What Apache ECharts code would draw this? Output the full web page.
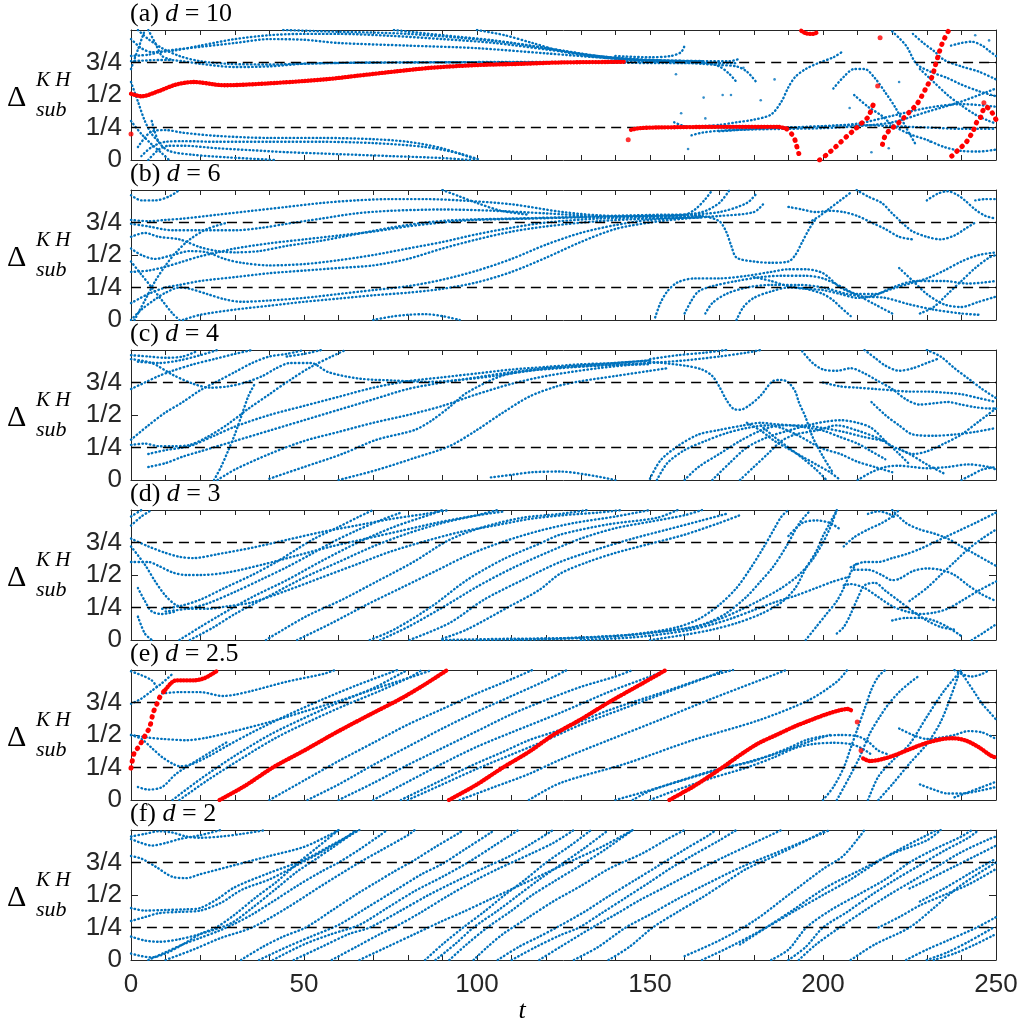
<!DOCTYPE html>
<html><head><meta charset="utf-8">
<script src="https://cdn.jsdelivr.net/npm/echarts@6/dist/echarts.min.js"></script>
<style>html,body{margin:0;padding:0;background:#fff}#c{width:1024px;height:1026px}</style>
</head><body><div id="c"></div><script>
// ---------- data ----------
const panelLetters = ['a','b','c','d','e','f'];
const dValues = ['10','6','4','3','2.5','2'];
const yTickLabels = ['0','1/4','1/2','3/4',''];
const refLevels = [0.25, 0.75];
const tRange = [0, 250];

const blueA = [
 [[0,0.93],[3,0.86],[6,0.83],[12,0.84],[20,0.88],[30,0.93],[40,0.96],[50,0.97],[60,0.97],[75,0.955],[90,0.93],[105,0.9],[120,0.85],[135,0.8],[150,0.77],[165,0.76]],
 [[140,0.8],[150,0.79],[156,0.8],[159,0.83],[160,0.88]],
 [[0,0.8],[5,0.81],[10,0.84],[20,0.87],[30,0.9],[40,0.93],[50,0.925],[60,0.9],[80,0.88],[100,0.86],[120,0.82],[140,0.78],[155,0.765],[173,0.76],[176,0.78]],
 [[0,0.76],[10,0.77],[15,0.76],[20,0.74],[30,0.715],[40,0.72],[50,0.74],[70,0.75],[100,0.752],[130,0.75],[160,0.745],[175,0.745]],
 [[2,1.0],[5,0.93],[9,0.86],[14,0.8],[20,0.76],[28,0.74],[40,0.735],[55,0.745],[80,0.75],[120,0.755],[150,0.755],[165,0.75],[170,0.72],[173,0.66],[175,0.6]],
 [[44,1.0],[55,0.99],[70,0.98],[80,0.97],[95,0.94],[110,0.9],[125,0.84],[140,0.78],[155,0.755],[170,0.75]],
 [[76,1.0],[90,0.96],[105,0.92],[120,0.86],[135,0.8],[150,0.765],[165,0.76]],
 [[100,1.0],[108,0.96],[116,0.9],[124,0.84],[132,0.8],[145,0.77],[160,0.76]],
 [[160,0.75],[165,0.74],[170,0.73],[175,0.72],[178,0.68],[181,0.59]],
 [[165,0.26],[170,0.27],[175,0.29],[180,0.31],[185,0.35],[188,0.45],[190,0.56],[192,0.64],[195,0.7],[199,0.75],[203,0.79],[206,0.84]],
 [[203,0.55],[206,0.64],[209,0.7],[212,0.7],[215,0.63],[218,0.52],[221,0.4],[224,0.25],[227,0.11]],
 [[209,0.5],[213,0.41],[217,0.34],[220,0.27],[225,0.2],[230,0.155],[235,0.1],[240,0.07],[245,0.065],[250,0.08]],
 [[157,0.29],[160,0.26],[165,0.25],[175,0.25],[190,0.25],[200,0.26],[210,0.27],[220,0.26],[230,0.25],[240,0.24],[250,0.24]],
 [[162,0.19],[165,0.21],[170,0.225],[180,0.235],[190,0.24],[200,0.245],[210,0.26],[220,0.29],[230,0.37],[240,0.45],[250,0.55]],
 [[170,0.22],[180,0.24],[190,0.25],[200,0.26],[210,0.28],[220,0.34],[230,0.4],[240,0.43],[250,0.41]],
 [[220,0.99],[224,0.88],[227,0.74],[231,0.68],[236,0.63],[240,0.58],[245,0.53],[250,0.49]],
 [[226,0.97],[229,0.9],[232,0.84],[235,0.77],[240,0.72],[245,0.68],[250,0.62]],
 [[237,0.88],[240,0.9],[243,0.91],[246,0.88],[248,0.84],[250,0.8]],
 [[228,0.7],[232,0.6],[236,0.5],[240,0.42],[244,0.35],[248,0.3],[250,0.28]],
 [[2,0.1],[6,0.22],[10,0.23],[15,0.21],[25,0.185],[40,0.17],[55,0.17],[70,0.16],[80,0.14],[90,0.09],[100,0.0]],
 [[3,0.03],[6,0.1],[10,0.14],[15,0.145],[25,0.14],[40,0.14],[55,0.14],[70,0.13],[85,0.1],[95,0.05],[101,0.0]],
 [[5,0.0],[8,0.08],[11,0.11],[15,0.11],[25,0.09],[35,0.075],[45,0.06],[60,0.045],[75,0.03],[90,0.015],[98,0.0]],
 [[6,0.3],[8,0.14],[11,0.07],[18,0.04],[28,0.02],[42,0.0]],
 [[0,0.6],[2,0.45],[4,0.3],[6,0.2],[8,0.14]],
 [[0,0.3],[3,0.2],[6,0.12],[9,0.05],[11,0.0]],
 [[0,0.7],[2,0.85],[4,1.0]],
 [[5,1.0],[7,0.9],[9,0.8],[12,0.77]]
];
const bluePointsA = [[165.5,0.48],[171,0.5],[173.4,0.5],[182,0.46],[159,0.36],[166,0.32],[161,0.085],[157.5,0.66],[207.7,0.4],[219,0.09],[186,0.62],[177,0.71],[214,0.06],[231,0.14],[222,0.6],[244,0.96],[248,0.92]];
const redA_dense = [
 [[0,0.51],[3,0.49],[8,0.53],[13,0.58],[18,0.6],[27,0.575],[40,0.59],[56,0.62],[66,0.65],[76,0.68],[87,0.71],[100,0.73],[113,0.74],[124,0.75],[143,0.755]],
 [[144.5,0.232],[147,0.245],[152,0.25],[172,0.255],[187,0.255],[189.5,0.24]],
 [[193.7,0.995],[195,0.975],[197,0.97],[198.6,0.985]]
];
const redA_sparse = [
 [[189.5,0.24],[191.5,0.18],[192.3,0.115],[193,0.05]],
 [[199,0.0],[201,0.04],[203,0.085],[205,0.135],[207,0.185],[209,0.23],[211,0.28],[213,0.33],[214.5,0.425]],
 [[217.2,0.12],[218,0.19],[219.3,0.23],[221.2,0.27],[223.2,0.32],[225,0.37],[227,0.425],[228.5,0.49],[230,0.565],[231.5,0.64],[232.5,0.73],[233.5,0.82],[234.5,0.9],[236.2,0.99]],
 [[237.2,0.03],[238.6,0.065],[240,0.1],[241.5,0.14],[243.5,0.23],[244.4,0.29],[245.4,0.32],[246.3,0.385],[247.1,0.41],[248.3,0.385],[249.2,0.35],[250,0.31]]
];
const redA_points = [[0,0.2],[143.7,0.155],[215.8,0.57],[216.5,0.94],[246.5,0.44]];

const blueB = [
 [[0,0.96],[3,0.92],[7,0.92],[11,0.95],[14,1.0]],
 [[0,0.77],[5,0.76],[10,0.77],[15,0.78],[25,0.81],[35,0.84],[45,0.87],[55,0.9],[65,0.92],[75,0.93],[85,0.93],[95,0.92],[110,0.89],[125,0.83],[140,0.8],[155,0.8],[165,0.83],[170,0.9],[173,1.0]],
 [[0,0.74],[5,0.72],[12,0.69],[20,0.69],[30,0.69],[38,0.71],[45,0.74],[55,0.78],[65,0.82],[75,0.84],[90,0.85],[105,0.84],[120,0.82],[135,0.8],[150,0.8],[160,0.81],[170,0.83],[178,0.9],[181,0.98]],
 [[0,0.64],[4,0.67],[8,0.64],[14,0.62],[20,0.56],[25,0.53],[30,0.52],[37,0.53],[45,0.57],[55,0.61],[65,0.66],[75,0.71],[85,0.75],[95,0.77],[110,0.78],[125,0.79],[140,0.8],[155,0.81],[165,0.8],[170,0.76],[172,0.68],[173.5,0.57],[175,0.48],[180,0.45],[185,0.44],[190,0.45],[192,0.5],[194,0.6],[196,0.7],[198,0.78]],
 [[0,0.37],[5,0.38],[10,0.41],[15,0.45],[20,0.49],[25,0.52],[30,0.55],[40,0.59],[50,0.62],[60,0.65],[70,0.68],[80,0.72],[90,0.75],[100,0.77],[115,0.78],[130,0.79],[150,0.8],[160,0.81],[163,0.85],[166,0.93],[168,1.0]],
 [[0,0.55],[3,0.5],[7,0.47],[12,0.5],[17,0.53],[22,0.52],[27,0.47],[32,0.44],[40,0.42],[50,0.43],[60,0.46],[70,0.5],[80,0.55],[90,0.6],[100,0.66],[110,0.71],[120,0.75],[135,0.78],[150,0.79],[165,0.8]],
 [[0,0.13],[5,0.2],[10,0.25],[14,0.27],[20,0.3],[30,0.33],[40,0.36],[50,0.38],[60,0.4],[70,0.42],[80,0.47],[90,0.55],[100,0.62],[110,0.68],[120,0.72],[135,0.76],[150,0.78],[165,0.79]],
 [[0,0.0],[3,0.08],[7,0.16],[10,0.21],[14,0.25],[17,0.24],[22,0.2],[27,0.16],[32,0.14],[40,0.15],[50,0.17],[60,0.2],[70,0.23],[80,0.26],[90,0.31],[100,0.38],[110,0.47],[120,0.58],[130,0.67],[140,0.73],[150,0.77],[165,0.79]],
 [[15,0.0],[20,0.04],[30,0.08],[40,0.11],[50,0.14],[60,0.165],[70,0.19],[80,0.21],[90,0.24],[100,0.29],[110,0.37],[120,0.48],[130,0.6],[140,0.7],[150,0.75],[160,0.78],[170,0.8],[180,0.83],[183,0.9]],
 [[70,0.0],[75,0.025],[80,0.04],[85,0.045],[90,0.03],[95,0.0]],
 [[1,0.0],[4,0.15],[7,0.3],[10,0.42],[13,0.52],[17,0.62],[22,0.7],[28,0.75]],
 [[90,1.0],[95,0.95],[100,0.9],[107,0.84],[115,0.81]],
 [[0,0.45],[3,0.35],[6,0.25],[9,0.15],[12,0.05],[14,0.0]],
 [[151.5,0.02],[153,0.13],[155,0.22],[158,0.29],[163,0.32],[170,0.32],[178,0.34],[185,0.37],[190,0.39],[195,0.39],[200,0.36],[205,0.25],[210,0.19],[215,0.12],[220,0.05]],
 [[160,0.05],[162,0.15],[164,0.22],[168,0.26],[175,0.3],[182,0.33],[188,0.34],[195,0.34],[200,0.32],[205,0.26],[210,0.2],[215,0.2],[220,0.24],[225,0.28],[230,0.32],[235,0.38],[240,0.45],[245,0.5],[250,0.52]],
 [[166,0.05],[168,0.13],[172,0.2],[178,0.25],[185,0.27],[193,0.27],[200,0.25],[207,0.2],[212,0.18],[218,0.17],[225,0.12],[232,0.08],[240,0.05],[245,0.04]],
 [[175,0.0],[177,0.1],[180,0.17],[185,0.22],[190,0.25],[195,0.24],[200,0.23],[205,0.2],[210,0.17],[215,0.19],[220,0.25],[227,0.3],[235,0.3],[242,0.28],[250,0.3]],
 [[180,0.33],[185,0.3],[190,0.26],[195,0.24],[200,0.2],[203,0.15],[205,0.1],[208,0.03]],
 [[190,0.87],[194,0.85],[198,0.83],[202,0.84],[206,0.83],[210,0.8],[214,0.75],[218,0.7],[222,0.64],[226,0.62]],
 [[209.7,1.0],[213,0.95],[217,0.9],[220,0.82],[222,0.77],[224,0.72],[226,0.68],[230,0.64],[234,0.62],[238,0.65],[241,0.7],[244,0.75]],
 [[230,0.92],[233,0.97],[236,0.99],[239,0.96],[241,0.92],[244,0.85],[247,0.8],[250,0.78]],
 [[196,0.75],[199,0.8],[202,0.86],[205,0.92],[208,0.98]],
 [[228,0.05],[232,0.1],[236,0.2],[240,0.3],[244,0.4],[248,0.48],[250,0.5]],
 [[222,0.4],[226,0.3],[230,0.2],[235,0.12],[240,0.1],[245,0.14],[250,0.18]],
 [[244,0.92],[247,0.93],[250,0.93]]
];

const blueC = [
 [[0,0.96],[5,0.95],[10,0.94],[15,0.95],[19,0.99]],
 [[0,0.93],[6,0.9],[12,0.81],[18,0.74],[23,0.71],[28,0.72],[33,0.75],[38,0.8],[42,0.86],[46,0.9],[52,0.9],[57,0.83],[66,0.78],[76,0.765],[86,0.755],[95,0.77],[105,0.8],[115,0.84],[125,0.87],[140,0.9],[150,0.92]],
 [[2,0.91],[8,0.9],[14,0.92],[20,0.96],[25,1.0]],
 [[0,0.7],[4,0.75],[8,0.8],[12,0.84],[18,0.89],[24,0.93],[30,0.97],[35,1.0]],
 [[0,0.31],[5,0.42],[10,0.52],[15,0.6],[20,0.69],[25,0.76],[30,0.83],[35,0.9],[40,0.95],[45,0.97],[50,1.0]],
 [[5,0.2],[10,0.23],[15,0.25],[18,0.27],[24,0.34],[30,0.41],[40,0.5],[50,0.57],[60,0.64],[70,0.71],[80,0.76],[90,0.79],[100,0.82],[110,0.85],[120,0.87],[130,0.89],[140,0.9],[150,0.92]],
 [[5,0.1],[10,0.13],[15,0.18],[20,0.22],[30,0.3],[40,0.38],[50,0.46],[60,0.54],[70,0.62],[80,0.7],[90,0.75],[100,0.79],[110,0.83],[120,0.86],[135,0.88],[150,0.9]],
 [[0,0.27],[4,0.28],[8,0.26],[12,0.26],[17,0.27],[22,0.33],[28,0.43],[34,0.55],[40,0.66],[46,0.77],[52,0.87],[58,0.95],[62,1.0]],
 [[40,0.01],[50,0.1],[61,0.2],[71,0.31],[82,0.385],[87,0.46],[92,0.56],[97,0.67],[107,0.8],[115,0.84],[124,0.86],[135,0.88],[150,0.89]],
 [[60,0.0],[71,0.077],[82,0.17],[92,0.26],[100,0.385],[107,0.51],[115,0.64],[123,0.72],[130,0.76],[140,0.8],[150,0.84],[155,0.86]],
 [[104,0.02],[110,0.04],[116,0.06],[124,0.065],[132,0.04],[140,0.0]],
 [[25,0.0],[30,0.08],[40,0.2],[50,0.3],[60,0.37],[70,0.44],[80,0.5],[90,0.57],[100,0.66],[110,0.74],[120,0.8],[135,0.86],[150,0.9]],
 [[24,0.0],[26,0.1],[28,0.22],[30,0.35],[32,0.5],[34,0.65],[36,0.75]],
 [[45,0.95],[50,0.97],[55,1.0]],
 [[150,0.93],[158,0.96],[166,0.98],[172,1.0]],
 [[150,0.9],[160,0.92],[170,0.95],[178,0.98],[182,1.0]],
 [[150,0.91],[160,0.88],[165,0.85],[168,0.8],[170,0.72],[172,0.62],[174,0.55],[176,0.54],[179,0.58],[182,0.65],[185.5,0.76],[188,0.77],[190,0.75],[192,0.68],[193,0.6],[195,0.48],[197,0.33],[200,0.18],[203,0.05]],
 [[150,0.01],[153,0.15],[158,0.26],[164,0.35],[170,0.385],[177,0.42],[182,0.44],[186,0.43],[191,0.42],[196,0.4],[200,0.38],[205,0.33],[210,0.28],[214,0.22],[218,0.16]],
 [[152,0.0],[155,0.13],[160,0.23],[166,0.3],[172,0.36],[178,0.4],[184,0.42],[188,0.4],[193,0.34],[197,0.28],[200,0.24],[205,0.2],[210,0.14],[215,0.1],[220,0.06]],
 [[160,0.0],[164,0.1],[170,0.2],[176,0.3],[182,0.38],[188,0.42],[194,0.42],[200,0.4],[206,0.37],[212,0.33],[218,0.3]],
 [[168,0.0],[173,0.13],[178,0.25],[184,0.33],[190,0.38],[197,0.43],[201,0.45],[205,0.46],[210,0.44],[214,0.4],[218,0.3],[222,0.2],[225,0.12]],
 [[176,0.0],[180,0.1],[184,0.2],[188,0.3],[192,0.35],[198,0.38],[204,0.42],[210,0.38],[216,0.32],[220,0.26],[225,0.2],[230,0.12],[235,0.05]],
 [[178,0.44],[182,0.38],[186,0.3],[190,0.24],[194,0.18],[198,0.12],[202,0.06],[205,0.0]],
 [[182,0.42],[186,0.33],[190,0.25],[194,0.17],[198,0.08],[201,0.0]],
 [[194,0.99],[197,0.9],[200,0.85],[204,0.84],[208,0.86],[212,0.82],[216,0.76],[220,0.7],[224,0.62],[228,0.58],[232,0.59],[236,0.6],[240,0.58],[244,0.56],[248,0.55],[250,0.55]],
 [[200,0.75],[205,0.72],[210,0.71],[215,0.7],[220,0.69],[225,0.68],[230,0.68],[236,0.67],[240,0.66],[245,0.63],[250,0.6]],
 [[212,1.0],[215,0.94],[218,0.88],[222,0.84],[226,0.86],[230,0.9],[233,0.93]],
 [[214,0.6],[218,0.5],[222,0.42],[226,0.35],[232,0.34],[238,0.35],[244,0.37],[250,0.4]],
 [[222,0.24],[226,0.2],[230,0.22],[235,0.28],[240,0.35],[245,0.45],[250,0.55]],
 [[210,0.0],[214,0.06],[218,0.1],[222,0.11],[226,0.1],[230,0.09],[236,0.1],[242,0.12],[248,0.1],[250,0.08]],
 [[230,1.0],[234,0.95],[238,0.86],[242,0.78],[246,0.7],[250,0.63]],
 [[240,0.0],[243,0.04],[246,0.08],[250,0.1]]
];

const blueD = [
 [[0,0.95],[3,1.0]],
 [[0,0.88],[3,0.95],[6,1.0]],
 [[0,0.78],[5,0.72],[10,0.67],[14,0.64],[18,0.63],[25,0.66],[35,0.71],[45,0.77],[55,0.83],[65,0.88],[75,0.93],[85,0.97],[92,1.0]],
 [[0,0.6],[5,0.6],[8,0.57],[12,0.52],[16,0.5],[20,0.5],[28,0.52],[38,0.58],[48,0.65],[58,0.72],[68,0.78],[78,0.84],[88,0.9],[98,0.95],[108,0.99]],
 [[0,0.72],[4,0.58],[7,0.45],[10,0.34],[13,0.27],[17,0.24],[22,0.24],[28,0.26],[35,0.29],[45,0.38],[55,0.48],[65,0.58],[75,0.68],[85,0.76],[95,0.83],[105,0.88],[115,0.93],[125,0.96],[135,0.98],[142,1.0]],
 [[9,0.24],[14,0.26],[20,0.31],[27,0.4],[35,0.5],[42,0.6],[48,0.7],[53,0.78],[60,0.87],[66,0.95],[70,1.0]],
 [[10,0.22],[16,0.24],[22,0.28],[30,0.37],[38,0.47],[45,0.56],[52,0.66],[58,0.75],[65,0.84],[72,0.92],[78,0.98]],
 [[14,0.0],[20,0.1],[25,0.18],[35,0.33],[45,0.46],[55.6,0.615],[66,0.755],[76,0.87],[87,0.97],[90,1.0]],
 [[17,0.0],[24,0.1],[30,0.2],[40,0.34],[50,0.48],[60,0.6],[70,0.72],[80,0.82],[90,0.9],[100,0.96],[106,1.0]],
 [[39,0.0],[50.5,0.18],[61,0.31],[71,0.45],[81.6,0.6],[92,0.77],[102,0.87],[113,0.94],[124,0.97],[132,1.0]],
 [[48,0.0],[58,0.13],[68,0.27],[78,0.4],[88,0.53],[98,0.66],[108,0.76],[118,0.84],[128,0.9],[140,0.95],[150,1.0]],
 [[69,0.0],[76,0.08],[87,0.26],[97,0.46],[107.5,0.62],[118,0.74],[124,0.81],[138,0.89],[152,0.94],[158,1.0]],
 [[72,0.0],[80,0.1],[90,0.25],[100,0.41],[110,0.55],[120,0.67],[130,0.78],[140,0.86],[150,0.91],[160,0.96],[165,1.0]],
 [[80.5,0.0],[92,0.13],[102,0.31],[113,0.46],[124,0.6],[135,0.7],[145,0.78],[155,0.85],[165,0.92],[172,0.97]],
 [[90,0.01],[97,0.08],[109.5,0.26],[118,0.385],[124,0.51],[132,0.6],[140,0.67],[150,0.74],[160,0.81],[170,0.9],[176,0.96]],
 [[2,0.18],[4,0.05],[6,0.0]],
 [[2,0.4],[4,0.3],[6,0.22],[9,0.2],[13,0.22]],
 [[90,0.0],[110,0.01],[124,0.013],[143,0.038],[152.7,0.064],[160.4,0.09],[166.2,0.128],[172,0.205],[177.8,0.33],[181.6,0.44],[185.5,0.56],[189.4,0.72],[193.2,0.9],[196.1,0.99]],
 [[100,0.0],[120,0.01],[140,0.03],[150,0.06],[158,0.1],[164,0.16],[170,0.27],[175,0.4],[179,0.55],[183,0.72],[186,0.86],[188,0.95],[190,1.0]],
 [[110,0.0],[130,0.015],[145,0.04],[155,0.07],[163,0.1],[170,0.16],[176,0.23],[182,0.31],[188,0.4],[193,0.5],[197,0.62],[200,0.75],[202,0.86],[204,1.0]],
 [[130,0.0],[145,0.02],[155,0.05],[162,0.08],[168,0.12],[174,0.17],[180,0.23],[186,0.29],[192,0.34],[198,0.4],[203,0.45],[208,0.49]],
 [[150,0.0],[160,0.04],[168,0.08],[175,0.13],[182,0.2],[188,0.29],[192,0.4],[195,0.55],[198,0.68],[200,0.8],[202,0.9],[204,1.0]],
 [[190,0.8],[194,0.9],[198,0.92],[202,0.9],[205,0.85]],
 [[206,0.72],[209,0.79],[213,0.85],[217,0.9],[220,0.95],[222,1.0]],
 [[213,0.97],[216,0.99],[219,0.97],[221,0.94]],
 [[208,0.56],[212,0.6],[216,0.6],[220,0.63],[224,0.66],[228,0.7],[232,0.75],[236,0.8],[240,0.85],[244,0.9],[250,0.98]],
 [[209,0.54],[213,0.54],[217,0.5],[220,0.46],[222,0.47],[226,0.53],[230,0.55],[234,0.54],[238,0.5],[242,0.42],[246,0.35],[250,0.3]],
 [[206,0.42],[208,0.43],[212,0.4],[216,0.33],[220,0.26],[224,0.22],[228,0.2],[232,0.21],[236,0.24],[240,0.3],[245,0.38],[250,0.45]],
 [[204,0.05],[206,0.1],[208,0.2],[210,0.32],[212,0.42],[215,0.44],[218,0.38],[222,0.3],[226,0.22],[230,0.15],[234,0.1],[238,0.08]],
 [[220,0.15],[224,0.17],[228,0.17],[232,0.15],[236,0.1],[240,0.03]],
 [[225,0.3],[230,0.4],[234,0.5],[238,0.6],[242,0.7],[246,0.78],[250,0.85]],
 [[220,1.0],[224,0.9],[228,0.85],[232,0.82],[236,0.78],[240,0.72],[244,0.66],[248,0.6],[250,0.57]],
 [[195,0.0],[198,0.1],[201,0.2],[204,0.3],[206,0.4],[208,0.52],[210,0.6]],
 [[243,0.0],[246,0.05],[250,0.12]]
];

const blueE = [
 [[9,0.82],[14,0.83],[20,0.83],[26.6,0.8],[30,0.81],[35,0.84],[45,0.91],[55.6,0.97],[59,1.0]],
 [[0,0.5],[3,0.47],[6,0.4],[9,0.33],[12,0.28],[14,0.26],[17,0.27],[22,0.33],[28,0.42],[35,0.52],[45,0.65],[55,0.77],[65,0.88],[75,0.98],[77,1.0]],
 [[0,0.5],[5,0.48],[9,0.47],[16,0.46],[22,0.48],[30,0.53],[40,0.6],[50,0.68],[61,0.77],[71,0.86],[81.5,0.95],[87,1.0]],
 [[12,0.0],[20,0.16],[30,0.34],[40,0.5],[50,0.63],[60,0.75],[70,0.86],[78.5,0.98],[80,1.0]],
 [[14,0.0],[22,0.15],[32,0.32],[42,0.48],[52,0.61],[62,0.73],[72,0.84],[81,0.95],[84,1.0]],
 [[40,0.0],[50,0.15],[60,0.3],[70,0.44],[80,0.58],[90,0.7],[100,0.82],[110,0.93],[116,1.0]],
 [[51,0.0],[60,0.12],[70,0.27],[80,0.41],[90,0.55],[100,0.68],[110,0.8],[120,0.92],[126,1.0]],
 [[60,0.0],[70,0.13],[80,0.27],[90,0.4],[100,0.53],[110,0.66],[120,0.77],[130,0.87],[140,0.95],[145,1.0]],
 [[70,0.0],[80,0.14],[90,0.28],[100,0.41],[110,0.52],[124,0.67],[138,0.83],[150,0.95],[155,1.0]],
 [[78,0.0],[88,0.13],[98,0.26],[107.5,0.37],[115,0.46],[124,0.54],[138,0.69],[152.7,0.82],[167,0.95],[174,1.0]],
 [[80,0.0],[90,0.12],[100,0.24],[110,0.35],[120,0.46],[130,0.58],[142,0.7],[155,0.83],[168,0.96],[171,1.0]],
 [[95,0.0],[105,0.1],[115,0.2],[124,0.31],[138,0.46],[152.7,0.615],[167,0.77],[181.6,0.92],[189.4,1.0]],
 [[115,0.0],[124,0.13],[143,0.28],[162.3,0.46],[181.6,0.615],[196,0.77],[204,0.91],[207,1.0]],
 [[145,0.0],[150,0.07],[160,0.16],[170,0.24],[180,0.3],[190,0.4],[195,0.46],[200,0.49],[205,0.5],[210,0.49],[213,0.45],[216,0.38],[219,0.35]],
 [[150,0.0],[158,0.08],[168,0.17],[178,0.25],[186,0.33],[192,0.4],[197,0.43],[203,0.44],[208,0.43],[211,0.4],[214,0.35]],
 [[140,0.0],[148,0.06],[158,0.14],[168,0.22],[178,0.29],[188,0.37],[196,0.45],[202,0.5]],
 [[204,0.0],[207.7,0.18],[210.6,0.33],[213.5,0.51],[216.4,0.64],[219,0.74],[222,0.83],[225,0.9],[228,0.96]],
 [[213,0.0],[216,0.18],[220,0.3],[225,0.43],[230,0.64],[235,0.84],[240,1.0]],
 [[216,0.0],[220,0.12],[225,0.28],[230,0.43],[234,0.6],[237,0.8],[239,0.95]],
 [[200,0.0],[203,0.1],[206,0.25],[208,0.4],[210,0.55],[212,0.7],[214,0.85],[216,0.95],[218,1.0]],
 [[222,0.55],[226,0.5],[230,0.47],[234,0.48],[238,0.5],[242,0.53],[246,0.52],[250,0.47]],
 [[228,0.12],[232,0.08],[236,0.05],[240,0.05],[245,0.07],[250,0.1]],
 [[238,0.02],[242,0.06],[246,0.1],[250,0.14]],
 [[238,1.0],[240,0.97],[243,0.95],[246,0.97],[248,1.0]],
 [[240,0.98],[242,0.9],[244,0.82],[246,0.74],[248,0.68],[250,0.62]],
 [[0,0.99],[3,0.96],[6,0.92],[8,0.85]],
 [[0,0.74],[3,0.78],[6,0.84],[9,0.9],[12,0.97]],
 [[2,0.1],[5,0.08],[9,0.1],[13,0.2],[20,0.32],[28,0.45]]
];
const redE_dense = [
 [[10,0.85],[11.6,0.9],[13,0.92],[15,0.92],[18,0.92],[21,0.935],[23.5,0.97],[25,0.995]],
 [[25.6,0.0],[33,0.11],[41,0.25],[50,0.38],[60,0.53],[70,0.67],[78,0.78],[85,0.89],[91.4,1.0]],
 [[91.9,0.0],[100,0.12],[107.5,0.25],[115,0.37],[122,0.5],[130,0.62],[138,0.75],[146,0.87],[154.6,1.0]],
 [[155.6,0.0],[162.3,0.1],[167,0.18],[172,0.27],[176.8,0.36],[181.6,0.44],[186.5,0.5],[191.3,0.56],[196,0.61],[201,0.66],[204.8,0.69],[207.2,0.7],[208.7,0.68]],
 [[211.6,0.32],[213.5,0.3],[216.4,0.31],[220.3,0.34],[225,0.39],[230,0.44],[234.8,0.47],[237.7,0.475],[241.5,0.455],[245.4,0.4],[248.3,0.345],[250,0.325]]
];
const redE_sparse = [
 [[0,0.245],[1,0.37],[2.3,0.41],[3.3,0.46],[4.4,0.51],[5.4,0.56],[6.4,0.67],[7.5,0.74],[8.5,0.8],[10,0.85]]
];
const redE_points = [[209.9,0.6],[211,0.38]];

const blueF = [
 [[0,0.8],[3,0.78],[7,0.72],[12,0.64],[16,0.63],[20,0.66],[30,0.73],[40,0.8],[50,0.87],[58,0.97],[60,1.0]],
 [[0,0.95],[4,0.97],[8,0.99],[12,0.98],[16,0.95],[20,0.94],[26,0.95],[32,0.97],[39,1.0]],
 [[0,0.93],[3,0.9],[6,0.88],[10,0.9],[14,0.93],[20,0.96],[26,1.0]],
 [[0,0.4],[4,0.38],[10,0.385],[16,0.39],[20,0.4],[25,0.47],[30,0.56],[40,0.67],[50,0.77],[57,0.87],[66,1.0]],
 [[0,0.3],[4,0.33],[8,0.36],[14,0.37],[20,0.38],[26,0.44],[32,0.54],[40,0.62],[48,0.73],[55,0.83],[62,0.94],[65,1.0]],
 [[0,0.05],[3,0.03],[6,0.02],[10,0.05],[15,0.12],[20,0.2],[24.6,0.25],[30,0.35],[36,0.48],[42,0.6],[48.4,0.75],[54,0.87],[60,1.0]],
 [[0,0.18],[4,0.15],[8,0.14],[14,0.16],[20,0.2],[28.7,0.28],[35,0.4],[42,0.55],[48,0.68],[53.6,0.78],[58,0.86],[64,0.97],[66,1.0]],
 [[5,0.0],[10,0.06],[15,0.12],[20,0.17],[25,0.22],[30,0.28],[35,0.35],[41,0.45],[48,0.57],[55,0.68],[60,0.75],[66,0.85],[72,0.96],[74,1.0]],
 [[10,0.0],[18,0.08],[26,0.17],[35,0.25],[45,0.4],[55,0.57],[66,0.75],[72,0.84],[80,0.96],[82,1.0]],
 [[31.8,0.0],[38,0.1],[44,0.18],[50.5,0.25],[58,0.38],[66,0.52],[71,0.6],[76,0.68],[82,0.77],[88,0.87],[95,0.98],[96,1.0]],
 [[37,0.0],[45,0.1],[52,0.18],[60,0.27],[68,0.4],[76,0.53],[84,0.66],[90,0.74],[97,0.86],[104,0.98],[105,1.0]],
 [[41,0.0],[50,0.12],[58,0.2],[66,0.27],[74,0.4],[82,0.53],[90,0.64],[98,0.76],[105,0.88],[112,1.0]],
 [[47,0.0],[55,0.1],[63,0.2],[69,0.25],[78,0.38],[86,0.5],[95,0.62],[103,0.72],[109.5,0.8],[116,0.9],[122,1.0]],
 [[58,0.0],[65,0.1],[72,0.2],[76,0.25],[84,0.37],[92,0.5],[100,0.62],[106,0.7],[115.8,0.82],[122,0.9],[128,1.0]],
 [[66,0.0],[74,0.1],[82,0.2],[90,0.3],[96,0.37],[104,0.47],[112,0.57],[120,0.67],[128,0.77],[136,0.87],[143,0.97],[145,1.0]],
 [[85,0.0],[90,0.12],[96,0.25],[102,0.37],[108,0.5],[114,0.62],[120,0.75],[127,0.88],[133,1.0]],
 [[88,0.0],[94,0.13],[99,0.25],[106,0.38],[112,0.5],[118,0.62],[124,0.73],[131,0.86],[138,1.0]],
 [[92,0.0],[97,0.12],[103,0.25],[110,0.38],[116,0.5],[122,0.6],[130,0.73],[137,0.85],[145,1.0]],
 [[99,0.0],[103,0.1],[107.5,0.2],[115,0.33],[122,0.45],[130,0.57],[138,0.7],[147.8,0.82],[155,0.93],[160,1.0]],
 [[106,0.0],[112,0.1],[118,0.18],[123,0.25],[131,0.37],[138,0.49],[146,0.62],[152.7,0.73],[160,0.85],[167,0.96],[169,1.0]],
 [[110,0.0],[117,0.1],[124,0.19],[129.5,0.25],[136,0.36],[143,0.48],[150,0.6],[155.6,0.7],[162,0.8],[170,0.92],[175,1.0]],
 [[118,0.0],[124,0.1],[133.3,0.25],[140,0.35],[147,0.46],[155,0.57],[164.3,0.7],[172,0.8],[180,0.9],[188,1.0]],
 [[128,0.0],[135,0.1],[143,0.25],[150,0.35],[158,0.47],[166,0.58],[176.8,0.72],[186,0.82],[195,0.92],[202,1.0]],
 [[138,0.0],[144,0.1],[150.8,0.25],[158,0.37],[165,0.48],[172,0.6],[177.8,0.7],[186,0.8],[196,0.93],[201,1.0]],
 [[160,0.03],[170,0.15],[180,0.3],[190,0.5],[200,0.7],[205.8,0.8],[210.6,0.95],[212,1.0]],
 [[165,0.0],[173,0.1],[183.6,0.25],[192,0.38],[200,0.5],[208,0.62],[215.5,0.75],[222,0.85],[230,0.96],[233,1.0]],
 [[176,0.12],[183.6,0.25],[191.3,0.385],[201,0.56],[210.6,0.69],[220.3,0.82],[230,0.92],[234,1.0]],
 [[185,0.0],[190,0.08],[195.2,0.25],[202,0.38],[210,0.5],[218,0.62],[225,0.75],[232,0.85],[240,0.95],[243,1.0]],
 [[190,0.0],[195,0.1],[200,0.25],[207,0.37],[214,0.5],[221,0.62],[228,0.73],[235,0.84],[242,0.94],[245,1.0]],
 [[193,0.0],[198,0.12],[204.8,0.25],[212,0.38],[219,0.5],[226,0.61],[233,0.72],[240,0.83],[248,0.93],[250,0.95]],
 [[208,0.0],[215,0.12],[225,0.25],[232,0.4],[238.6,0.55],[244,0.65],[250,0.75]],
 [[224,0.0],[230,0.08],[236,0.15],[244.4,0.25],[250,0.33]],
 [[230,0.0],[236,0.06],[242,0.14],[249.3,0.25]],
 [[232,0.0],[238,0.05],[244,0.12],[250,0.2]],
 [[225,0.55],[232,0.64],[238,0.72],[244,0.8],[250,0.88]],
 [[228,0.45],[235,0.55],[242,0.66],[250,0.78]],
 [[216,0.25],[222,0.33],[228,0.42],[235,0.5],[242,0.58],[250,0.7]]
];

const bluePanels = [blueA, blueB, blueC, blueD, blueE, blueF];
const bluePointPanels = {0: bluePointsA};
const redDensePanels = {0: redA_dense, 4: redE_dense};
const redSparsePanels = {0: redA_sparse, 4: redE_sparse};
const redPointPanels = {0: redA_points, 4: redE_points};

// ---------- layout / style ----------
const PLOT_LEFT = 131, PLOT_RIGHT = 28, PANEL_H = 130;
const PANEL_TOPS = [30, 190, 350, 510, 670, 830];
const AX = '#262626';
const SANS = '"Liberation Sans", Arial, sans-serif';
const SERIF = '"Liberation Serif", "Times New Roman", serif';
const blueStyle = {color:'#0072BD', width:2.4, type:[0.5,3.3], cap:'round'};
const redDenseStyle = {color:'#FF0000', width:4.3, type:[0.5,2.6], cap:'round'};
const redSparseStyle = {color:'#FF0000', width:5, type:[0.5,6.5], cap:'round'};

const grids = [], xAxes = [], yAxes = [], series = [], titles = [], graphics = [];
PANEL_TOPS.forEach((top, i) => {
  const last = i === PANEL_TOPS.length - 1;
  grids.push({left: PLOT_LEFT, right: PLOT_RIGHT, top: top, height: PANEL_H});
  const xBase = {type:'value', gridIndex:i, min:tRange[0], max:tRange[1], interval:10,
    axisLine:{show:true, onZero:false, lineStyle:{color:AX, width:1}},
    axisTick:{show:true, inside:true, length:5, lineStyle:{color:AX}},
    splitLine:{show:false}};
  xAxes.push(Object.assign({}, xBase, {position:'bottom',
    axisLabel:{show:last, margin:12, color:AX, fontSize:26, fontFamily:SANS,
      formatter: v => (v % 50 === 0 ? String(v) : '')}}));
  xAxes.push(Object.assign({}, xBase, {position:'top', axisLabel:{show:false}}));
  const yBase = {type:'value', gridIndex:i, min:0, max:1, interval:0.25,
    axisLine:{show:true, onZero:false, lineStyle:{color:AX, width:1}},
    axisTick:{show:true, inside:true, length:7, lineStyle:{color:AX}},
    splitLine:{show:false}};
  yAxes.push(Object.assign({}, yBase, {position:'left',
    axisLabel:{show:true, margin:9, color:AX, fontSize:26, fontFamily:SANS,
      formatter: v => yTickLabels[Math.round(v*4)]}}));
  yAxes.push(Object.assign({}, yBase, {position:'right', axisLabel:{show:false}}));

  const mk = (data, style, z) => ({type:'line', xAxisIndex:2*i, yAxisIndex:2*i, data:data,
    smooth:0.3, symbol:'none', lineStyle:style, silent:true, z:z, clip:true});
  bluePanels[i].forEach(c => series.push(mk(c, blueStyle, 2)));
  if (bluePointPanels[i]) series.push({type:'scatter', xAxisIndex:2*i, yAxisIndex:2*i,
    data:bluePointPanels[i], symbolSize:2.6, itemStyle:{color:'#0072BD'}, silent:true, z:2});
  refLevels.forEach(lv => series.push(mk([[tRange[0],lv],[tRange[1],lv]],
    {color:'#000', width:1.3, type:[10,6]}, 3)));
  (redDensePanels[i] || []).forEach(c => series.push(mk(c, redDenseStyle, 5)));
  (redSparsePanels[i] || []).forEach(c => series.push(mk(c, redSparseStyle, 5)));
  if (redPointPanels[i]) series.push({type:'scatter', xAxisIndex:2*i, yAxisIndex:2*i,
    data:redPointPanels[i], symbolSize:5, itemStyle:{color:'#FF0000'}, silent:true, z:6});

  titles.push({text:'{n|(' + panelLetters[i] + ') }{i|d}{n| = ' + dValues[i] + '}',
    left: PLOT_LEFT - 1, top: top - 29, padding:0,
    textStyle:{fontWeight:'normal', rich:{
      n:{fontFamily:SERIF, fontSize:26, fontWeight:'normal', color:'#000'},
      i:{fontFamily:SERIF, fontStyle:'italic', fontWeight:'normal', fontSize:26, color:'#000'}}}});
  graphics.push({type:'text', x:7, y:top+53, style:{text:'Δ', font:'30px ' + SERIF, fill:'#000'}});
  graphics.push({type:'text', x:36, y:top+40, style:{text:'K H', font:'italic 21px ' + SERIF, fill:'#000'}});
  graphics.push({type:'text', x:36, y:top+69, style:{text:'sub', font:'italic 22px ' + SERIF, fill:'#000'}});
});
graphics.push({type:'text', x:522, y:998, style:{text:'t', font:'italic 26px ' + SERIF, fill:'#000', textAlign:'center'}});

const chart = echarts.init(document.getElementById('c'), null, {renderer:'canvas'});
chart.setOption({animation:false, backgroundColor:'#fff', title:titles, grid:grids,
  xAxis:xAxes, yAxis:yAxes, series:series, graphic:graphics});
</script></body></html>
